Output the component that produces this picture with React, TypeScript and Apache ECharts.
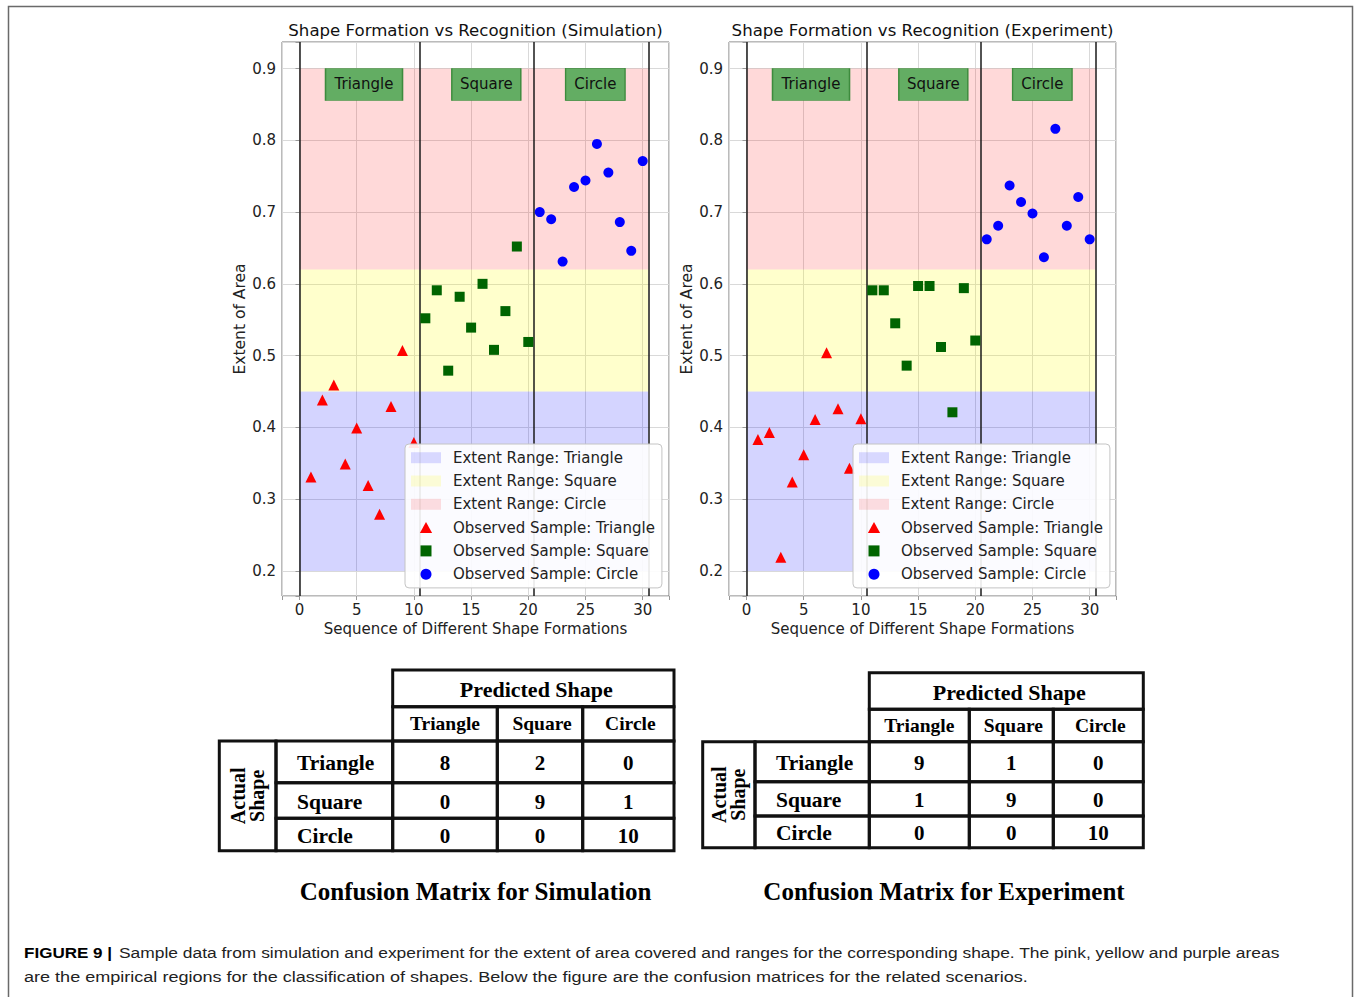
import React, { useEffect, useRef } from 'react';
import * as echarts from 'echarts';

// ---------- data ----------
const triangleX = [1, 2, 3, 4, 5, 6, 7, 8, 9, 10];
const squareX = [11, 12, 13, 14, 15, 16, 17, 18, 19, 20];
const circleX = [21, 22, 23, 24, 25, 26, 27, 28, 29, 30];

const simTriangle = [0.331, 0.438, 0.459, 0.349, 0.399, 0.319, 0.279, 0.429, 0.507, 0.379];
const simSquare = [0.552, 0.591, 0.479, 0.582, 0.539, 0.6, 0.508, 0.562, 0.652, 0.519];
const simCircle = [0.7, 0.69, 0.631, 0.735, 0.744, 0.795, 0.755, 0.686, 0.646, 0.771];

const expTriangle = [0.383, 0.393, 0.219, 0.324, 0.362, 0.411, 0.504, 0.426, 0.343, 0.412];
const expSquare = [0.591, 0.591, 0.545, 0.486, 0.597, 0.597, 0.512, 0.421, 0.594, 0.521];
const expCircle = [0.662, 0.681, 0.737, 0.714, 0.698, 0.637, 0.816, 0.681, 0.721, 0.662];

const shapeNames = ['Triangle', 'Square', 'Circle'];
const rangeLow = [0.2, 0.45, 0.62];
const rangeHigh = [0.45, 0.62, 0.9];
const rangeXStart = 0;
const rangeXEnd = 30.5;
const boundaries = [0, 10.5, 20.5, 30.5];

const panelTitles = [
  'Shape Formation vs Recognition (Simulation)',
  'Shape Formation vs Recognition (Experiment)',
];
const xAxisName = 'Sequence of Different Shape Formations';
const yAxisName = 'Extent of Area';

const simMatrix = [
  [8, 2, 0],
  [0, 9, 1],
  [0, 0, 10],
];
const expMatrix = [
  [9, 1, 0],
  [1, 9, 0],
  [0, 0, 10],
];
const matrixCaptions = ['Confusion Matrix for Simulation', 'Confusion Matrix for Experiment'];

const footerBold = 'FIGURE 9 |';
const footerLine1 =
  'Sample data from simulation and experiment for the extent of area covered and ranges for the corresponding shape. The pink, yellow and purple areas';
const footerLine2 =
  'are the empirical regions for the classification of shapes. Below the figure are the confusion matrices for the related scenarios.';

// ---------- layout / style ----------
const SANS = 'DejaVu Sans';
const SERIF = 'Liberation Serif';
const X_MIN = -1.53;
const X_MAX = 32.3;
const Y_MIN = 0.165;
const Y_MAX = 0.937;

const bandColors = ['rgba(0,0,255,0.17)', 'rgba(255,255,0,0.2)', 'rgba(255,0,0,0.15)'];
const markerColors = ['#ff0000', '#006400', '#0000ff'];

const panels = [
  { left: 282, top: 42, width: 387, height: 554, legendLeft: 405, legendTop: 444 },
  { left: 729, top: 42, width: 387, height: 554, legendLeft: 853, legendTop: 444 },
];
const labelBox = { x: [5.64, 16.33, 25.86], y: 0.8778, w: [77, 69, 59.5], h: 32 };

const tableLayouts = [
  {
    colX: [392.7, 497.3, 582.7, 674],
    hdrTop: 670,
    hdrBottom: 706.7,
    colHdrBottom: 741,
    rowBottom: [782.7, 818.3, 850.7],
    actualLeft: 219.3,
    labelLeft: 276,
    captionX: 475.5,
    captionY: 891,
  },
  {
    colX: [869.3, 969.3, 1053.3, 1143.3],
    hdrTop: 672.7,
    hdrBottom: 709.3,
    colHdrBottom: 741.7,
    rowBottom: [781.7, 816, 847.7],
    actualLeft: 702.7,
    labelLeft: 755,
    captionX: 944,
    captionY: 891,
  },
];

function panelSeries(p: number, tri: number[], sq: number[], circ: number[]) {
  const base = { type: 'scatter', xAxisIndex: p, yAxisIndex: p };
  const s: any[] = [];
  shapeNames.forEach((n, i) => {
    s.push({
      ...base,
      name: 'Extent Range: ' + n,
      data: [],
      itemStyle: { color: bandColors[i] },
      z: 1,
      markArea: {
        silent: true,
        itemStyle: { color: bandColors[i] },
        emphasis: { disabled: true },
        data: [[{ xAxis: rangeXStart, yAxis: rangeLow[i] }, { xAxis: rangeXEnd, yAxis: rangeHigh[i] }]],
      },
    });
  });
  s.push({
    ...base,
    name: 'boundaries',
    data: [],
    z: 3,
    markLine: {
      silent: true,
      symbol: ['none', 'none'],
      label: { show: false },
      lineStyle: { color: '#1a1a1a', width: 1.5, type: 'solid' },
      emphasis: { disabled: true },
      data: boundaries.map((b) => ({ xAxis: b })),
    },
  });
  s.push({
    ...base,
    name: 'regionLabels',
    data: [],
    z: 4,
    markPoint: {
      silent: true,
      symbol: 'rect',
      itemStyle: { color: '#63ad63', borderColor: '#3d8b3d', borderWidth: 1 },
      label: { show: true, position: 'inside', formatter: '{b}', color: '#111', fontSize: 15, fontFamily: SANS },
      data: shapeNames.map((n, i) => ({
        name: n,
        coord: [labelBox.x[i], labelBox.y],
        symbolSize: [labelBox.w[i], labelBox.h],
      })),
    },
  });
  const sets = [
    { xs: triangleX, ys: tri, symbol: 'triangle', size: 11 },
    { xs: squareX, ys: sq, symbol: 'rect', size: 10 },
    { xs: circleX, ys: circ, symbol: 'circle', size: 10 },
  ];
  sets.forEach((st, i) => {
    s.push({
      ...base,
      name: 'Observed Sample: ' + shapeNames[i],
      symbol: st.symbol,
      symbolSize: st.size,
      itemStyle: { color: markerColors[i], opacity: 1 },
      z: 5,
      data: st.xs.map((x, k) => [x, st.ys[k]]),
    });
  });
  return s;
}

function tableGraphics(t: any, matrix: number[][], caption: string) {
  const g: any[] = [];
  const line = { fill: 'none', stroke: '#111', lineWidth: 3 };
  const txt = (x: number, y: number, text: string, size: number, align = 'center') => ({
    type: 'text',
    x,
    y,
    style: { text, fontFamily: SERIF, fontWeight: 'bold', fontSize: size, fill: '#000', align, verticalAlign: 'middle' },
  });
  const rect = (x0: number, y0: number, x1: number, y1: number) => ({
    type: 'rect',
    shape: { x: x0, y: y0, width: x1 - x0, height: y1 - y0 },
    style: line,
  });
  g.push(rect(t.colX[0], t.hdrTop, t.colX[3], t.hdrBottom));
  g.push(txt((t.colX[0] + t.colX[3]) / 2 + 3, (t.hdrTop + t.hdrBottom) / 2 + 1, 'Predicted Shape', 22));
  shapeNames.forEach((n, j) => {
    g.push(rect(t.colX[j], t.hdrBottom, t.colX[j + 1], t.colHdrBottom));
    g.push(txt((t.colX[j] + t.colX[j + 1]) / 2 + (j === 0 ? 0 : 2), (t.hdrBottom + t.colHdrBottom) / 2, n, 19.5));
  });
  const rowTops = [t.colHdrBottom, t.rowBottom[0], t.rowBottom[1]];
  shapeNames.forEach((n, i) => {
    const y0 = rowTops[i];
    const y1 = t.rowBottom[i];
    g.push(rect(t.labelLeft, y0, t.colX[0], y1));
    g.push(txt(t.labelLeft + 21, (y0 + y1) / 2 + 1, n, 21.5, 'left'));
    matrix[i].forEach((v, j) => {
      g.push(rect(t.colX[j], y0, t.colX[j + 1], y1));
      g.push(txt((t.colX[j] + t.colX[j + 1]) / 2, (y0 + y1) / 2 + 1, String(v), 21));
    });
  });
  g.push(rect(t.actualLeft, t.colHdrBottom, t.labelLeft, t.rowBottom[2]));
  g.push({
    type: 'text',
    x: (t.actualLeft + t.labelLeft) / 2,
    y: (t.colHdrBottom + t.rowBottom[2]) / 2,
    rotation: Math.PI / 2,
    style: {
      text: 'Actual\nShape',
      fontFamily: SERIF,
      fontWeight: 'bold',
      fontSize: 20,
      lineHeight: 19,
      fill: '#000',
      align: 'center',
      verticalAlign: 'middle',
    },
  });
  g.push(txt(t.captionX, t.captionY, caption, 25));
  return g;
}

export default function App() {
  const ref = useRef<HTMLDivElement>(null);
  useEffect(() => {
    if (!ref.current) return;
    const chart = echarts.init(ref.current, null, { renderer: 'svg' });

    const axisLabelStyle = { color: '#222', fontSize: 15, fontFamily: SANS };
    const xAxes = panels.map((p, i) => ({
      type: 'value',
      gridIndex: i,
      min: X_MIN,
      max: X_MAX,
      name: xAxisName,
      nameLocation: 'middle',
      nameGap: 24,
      nameTextStyle: { color: '#222', fontSize: 15, fontFamily: SANS },
      axisLine: { show: false },
      axisTick: { show: true, length: 4, lineStyle: { color: '#999' } },
      splitLine: { show: true, lineStyle: { color: '#d9d9d9', width: 1 } },
      axisLabel: {
        ...axisLabelStyle,
        margin: 6,
        formatter: (v: number) => (Math.abs(v / 5 - Math.round(v / 5)) < 1e-6 ? String(Math.round(v)) : ''),
      },
    }));
    const yAxes = panels.map((p, i) => ({
      type: 'value',
      gridIndex: i,
      min: Y_MIN,
      max: Y_MAX,
      splitNumber: 7,
      name: yAxisName,
      nameLocation: 'middle',
      nameGap: 34,
      nameTextStyle: { color: '#222', fontSize: 15.5, fontFamily: SANS },
      axisLine: { show: false },
      axisTick: { show: true, length: 4, lineStyle: { color: '#999' } },
      splitLine: { show: true, lineStyle: { color: '#d9d9d9', width: 1 } },
      axisLabel: {
        ...axisLabelStyle,
        margin: 6,
        formatter: (v: number) => {
          const r = Math.round(v * 10) / 10;
          return Math.abs(v - r) < 1e-6 ? r.toFixed(1) : '';
        },
      },
    }));

    const legendNames = [
      { name: 'Extent Range: Triangle', icon: 'rect' },
      { name: 'Extent Range: Square', icon: 'rect' },
      { name: 'Extent Range: Circle', icon: 'rect' },
      { name: 'Observed Sample: Triangle', icon: 'path://M5,0L10,9L0,9Z' },
      { name: 'Observed Sample: Square', icon: 'path://M0,0L10,0L10,10L0,10Z' },
      { name: 'Observed Sample: Circle', icon: 'circle' },
    ];

    const footerFont = { fontFamily: 'Liberation Sans', fontSize: 15.5, verticalAlign: 'middle' };
    const graphics: any[] = [
      {
        type: 'rect',
        shape: { x: 8.5, y: 6.5, width: 1344, height: 1000 },
        style: { fill: 'none', stroke: '#6a6a6a', lineWidth: 1.5 },
      },
      ...tableGraphics(tableLayouts[0], simMatrix, matrixCaptions[0]),
      ...tableGraphics(tableLayouts[1], expMatrix, matrixCaptions[1]),
      {
        type: 'text',
        x: 24,
        y: 952,
        scaleX: 1.1,
        style: { ...footerFont, text: footerBold, fontWeight: 'bold', fill: '#000' },
      },
      {
        type: 'text',
        x: 119,
        y: 952,
        scaleX: 1.124,
        style: { ...footerFont, text: footerLine1, fill: '#222' },
      },
      {
        type: 'text',
        x: 24,
        y: 977,
        scaleX: 1.165,
        style: { ...footerFont, text: footerLine2, fill: '#222' },
      },
    ];

    const option: any = {
      animation: false,
      backgroundColor: '#ffffff',
      title: panels.map((p, i) => ({
        text: panelTitles[i],
        left: p.left + p.width / 2,
        top: 22,
        textAlign: 'center',
        padding: 0,
        textStyle: { color: '#111', fontSize: 16.6, fontWeight: 'normal', fontFamily: SANS },
      })),
      grid: panels.map((p) => ({
        left: p.left,
        top: p.top,
        width: p.width,
        height: p.height,
        show: true,
        borderColor: '#777',
        borderWidth: 1,
        backgroundColor: 'transparent',
        containLabel: false,
      })),
      legend: panels.map((p) => ({
        left: p.legendLeft,
        top: p.legendTop,
        z: 20,
        orient: 'vertical',
        selectedMode: false,
        itemWidth: 30,
        itemHeight: 11,
        itemGap: 8.3,
        padding: [6.2, 7, 6.2, 6],
        backgroundColor: 'rgba(255,255,255,0.9)',
        borderColor: '#c4c4c4',
        borderWidth: 1,
        borderRadius: 4,
        textStyle: { color: '#222', fontSize: 15, fontFamily: SANS, lineHeight: 15, padding: [0, 0, 0, 7] },
        data: legendNames,
      })),
      xAxis: xAxes,
      yAxis: yAxes,
      series: [
        ...panelSeries(0, simTriangle, simSquare, simCircle),
        ...panelSeries(1, expTriangle, expSquare, expCircle),
      ],
      graphic: graphics,
    };
    chart.setOption(option);
    return () => chart.dispose();
  }, []);
  return (
    <div
      ref={ref}
      style={{ position: 'absolute', left: 0, top: 0, width: 1356, height: 997, background: '#fff' }}
    />
  );
}
